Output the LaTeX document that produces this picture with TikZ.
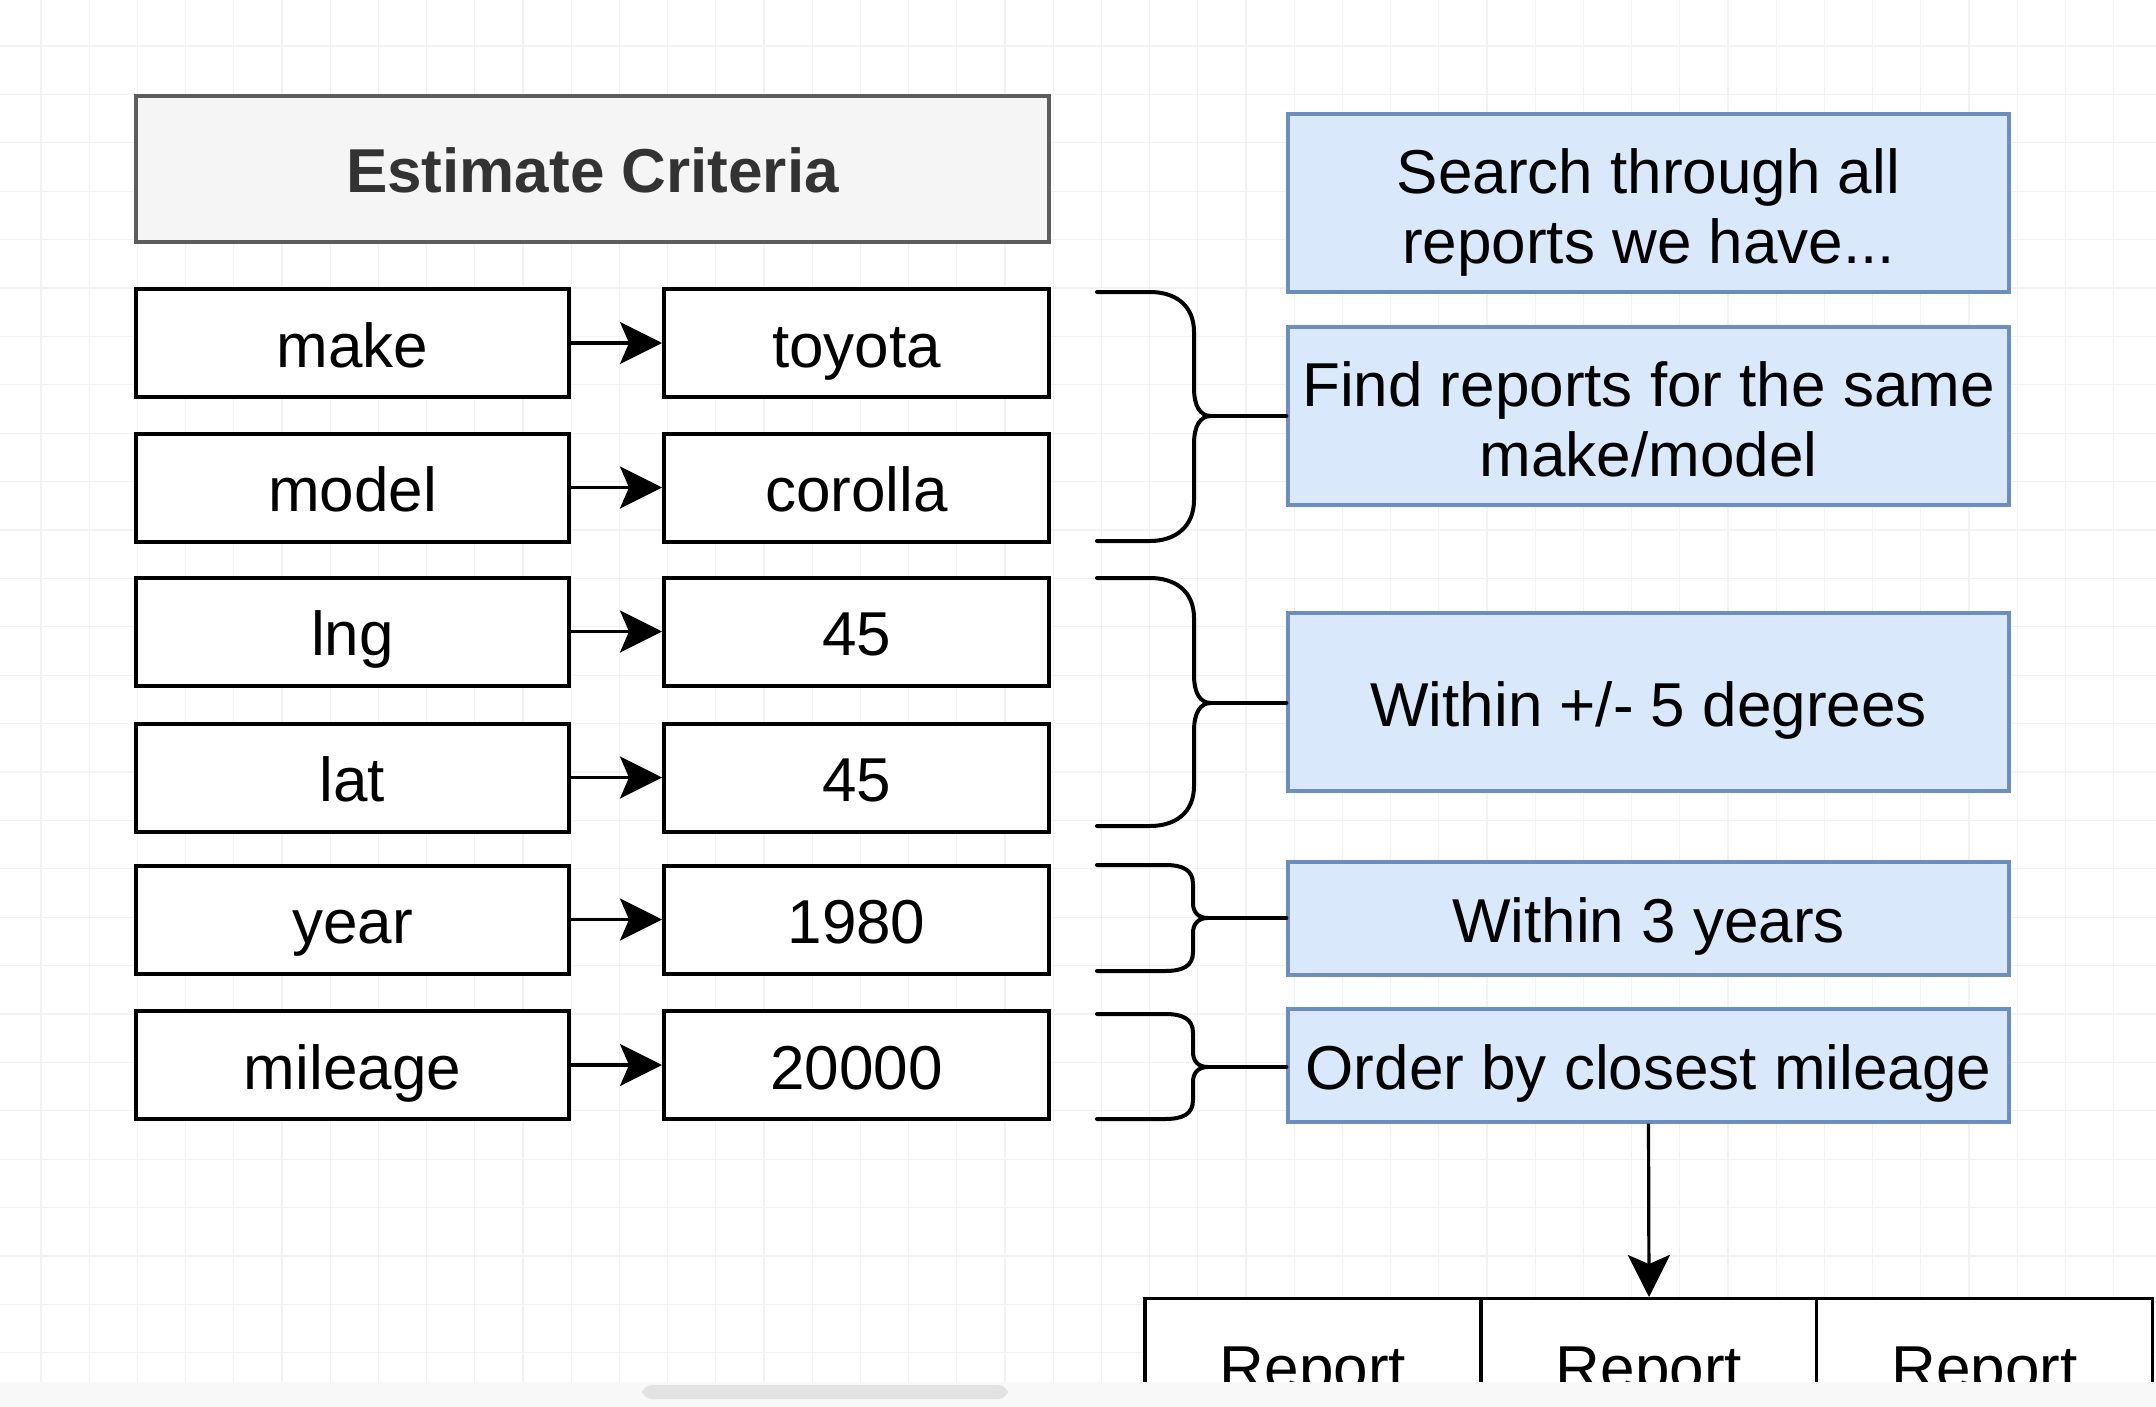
\documentclass[tikz,border=0pt]{standalone}
\usepackage{fontspec}
\setmainfont{Liberation Sans}
\usetikzlibrary{arrows.meta}
\definecolor{bluefill}{HTML}{DAE8FC}
\definecolor{blueline}{HTML}{6C8EBF}
\definecolor{grayfill}{HTML}{F5F5F5}
\definecolor{grayline}{HTML}{5C5C5C}
\definecolor{darktext}{HTML}{333333}
\definecolor{gridcol}{HTML}{F2F2F2}
\definecolor{bandcol}{HTML}{F8F8F8}
\definecolor{scrollcol}{HTML}{E2E2E2}
\tikzset{
  x=0.5pt, y=-0.5pt,
  txt/.style={font=\fontsize{31}{35}\selectfont, align=center, inner sep=0pt},
  oneline/.style={text height=24pt, text depth=0pt},
  twoline/.style={text height=67pt, text depth=6.5pt},
  keybox/.style={txt, oneline, draw=black, line width=2pt, fill=white, minimum width=216.5pt, minimum height=54pt},
  valbox/.style={txt, oneline, draw=black, line width=2pt, fill=white, minimum width=192.5pt, minimum height=54pt},
  bluebox/.style={txt, draw=blueline, line width=1.6pt, fill=bluefill, minimum width=360.5pt},
  headbox/.style={txt, oneline, draw=grayline, line width=2pt, fill=grayfill, minimum width=456.5pt, minimum height=73pt, text=darktext, font=\fontsize{31}{35}\selectfont\bfseries},
  conn/.style={line width=1.6pt, -{Stealth[length=21pt,width=21pt,inset=4.5pt]}},
  bracestyle/.style={line width=2pt, line cap=round},
  cellbox/.style={draw=black, line width=1.6pt, fill=white, minimum width=168pt, minimum height=120pt, inner sep=0pt}
}
\begin{document}
\begin{tikzpicture}
\useasboundingbox (0,0) rectangle (2156,1407);
\clip (0,0) rectangle (2156,1407);
\fill[white] (0,0) rectangle (2156,1407);
% faint grid
\foreach \i in {0,...,44} {\draw[gridcol, line width=0.6pt] ({41+48.2*\i},0) -- ({41+48.2*\i},1407);}
\foreach \j in {0,...,28} {\draw[gridcol, line width=0.6pt] (0,{46+48.4*\j}) -- (2156,{46+48.4*\j});}

% header
\node[headbox] (head) at (592.5,169) {Estimate Criteria};

% key / value rows
\node[keybox] (kmake) at (352.5,343) {make};
\node[valbox] (vmake) at (856.5,343) {toyota};
\node[keybox] (kmodel) at (352.5,487.5) {model};
\node[valbox] (vmodel) at (856.5,487.5) {corolla};
\node[keybox] (klng) at (352.5,631.5) {lng};
\node[valbox] (vlng) at (856.5,631.5) {45};
\node[keybox] (klat) at (352.5,777.5) {lat};
\node[valbox] (vlat) at (856.5,777.5) {45};
\node[keybox] (kyear) at (352.5,919.5) {year};
\node[valbox] (vyear) at (856.5,919.5) {1980};
\node[keybox] (kmil) at (352.5,1065) {mileage};
\node[valbox] (vmil) at (856.5,1065) {20000};

\foreach \k/\v in {kmake/vmake,kmodel/vmodel,klng/vlng,klat/vlat,kyear/vyear,kmil/vmil}
  {\draw[conn] (\k.east) -- (\v.west);}

% blue boxes
\node[bluebox, twoline, minimum height=89pt] (search) at (1648.5,203) {Search through all\\reports we have...};
\node[bluebox, twoline, minimum height=89pt] (find) at (1648.5,416) {Find reports for the same\\make/model};
\node[bluebox, oneline, minimum height=89pt] (deg) at (1648.5,702) {Within +/- 5 degrees};
\node[bluebox, oneline, minimum height=56.5pt] (years) at (1648.5,918.5) {Within 3 years};
\node[bluebox, oneline, minimum height=56.5pt] (order) at (1648.5,1065.5) {Order by closest mileage};

% braces: big ones
\coordinate (b1tip) at (1211,416);
\draw[bracestyle] (1097,292) -- (1150,292) .. controls (1175,292) and (1194,305) .. (1194,332)
  -- (1194,388) .. controls (1194,406) and (1200,416) .. (b1tip)
  .. controls (1200,416) and (1194,426) .. (1194,444)
  -- (1194,500) .. controls (1194,527) and (1175,541) .. (1150,541) -- (1097,541);
\draw[bracestyle] (b1tip) -- (find.west |- b1tip);

\coordinate (b2tip) at (1211,703);
\draw[bracestyle] (1097,578) -- (1150,578) .. controls (1175,578) and (1194,591) .. (1194,618)
  -- (1194,675) .. controls (1194,693) and (1200,703) .. (b2tip)
  .. controls (1200,703) and (1194,713) .. (1194,731)
  -- (1194,786) .. controls (1194,813) and (1175,826) .. (1150,826) -- (1097,826);
\draw[bracestyle] (b2tip) -- (deg.west |- b2tip);

% braces: small ones
\coordinate (b3tip) at (1208,918);
\draw[bracestyle] (1097,865) -- (1165,865) .. controls (1183,865) and (1193,870) .. (1193,884)
  -- (1193,903) .. controls (1193,912) and (1198,918) .. (b3tip)
  .. controls (1198,918) and (1193,924) .. (1193,933)
  -- (1193,952) .. controls (1193,966) and (1183,971) .. (1165,971) -- (1097,971);
\draw[bracestyle] (b3tip) -- (years.west |- b3tip);

\coordinate (b4tip) at (1208,1067);
\draw[bracestyle] (1097,1014) -- (1165,1014) .. controls (1183,1014) and (1193,1019) .. (1193,1033)
  -- (1193,1052) .. controls (1193,1061) and (1198,1067) .. (b4tip)
  .. controls (1198,1067) and (1193,1073) .. (1193,1082)
  -- (1193,1100) .. controls (1193,1114) and (1183,1119) .. (1165,1119) -- (1097,1119);
\draw[bracestyle] (b4tip) -- (order.west |- b4tip);

% report table
\node[cellbox, anchor=north] (rep1) at (1313,1297) {};
\node[cellbox, anchor=north] (rep2) at (1649,1297) {};
\node[cellbox, anchor=north] (rep3) at (1984.5,1297) {};
\node[font=\fontsize{31}{35}\selectfont, inner sep=0pt, anchor=base] (rep1t) at (1313,1389) {Report};
\node[font=\fontsize{31}{35}\selectfont, inner sep=0pt, anchor=base] (rep2t) at (1649,1389) {Report};
\node[font=\fontsize{31}{35}\selectfont, inner sep=0pt, anchor=base] (rep3t) at (1984.5,1389) {Report};

\draw[conn] (order.south) -- (rep2.north);

% bottom bar of the editor window
\fill[bandcol] (0,1382) rectangle (2156,1407);
\fill[scrollcol, rounded corners=5pt] (642,1385) rectangle (1008,1399);
\end{tikzpicture}
\end{document}
